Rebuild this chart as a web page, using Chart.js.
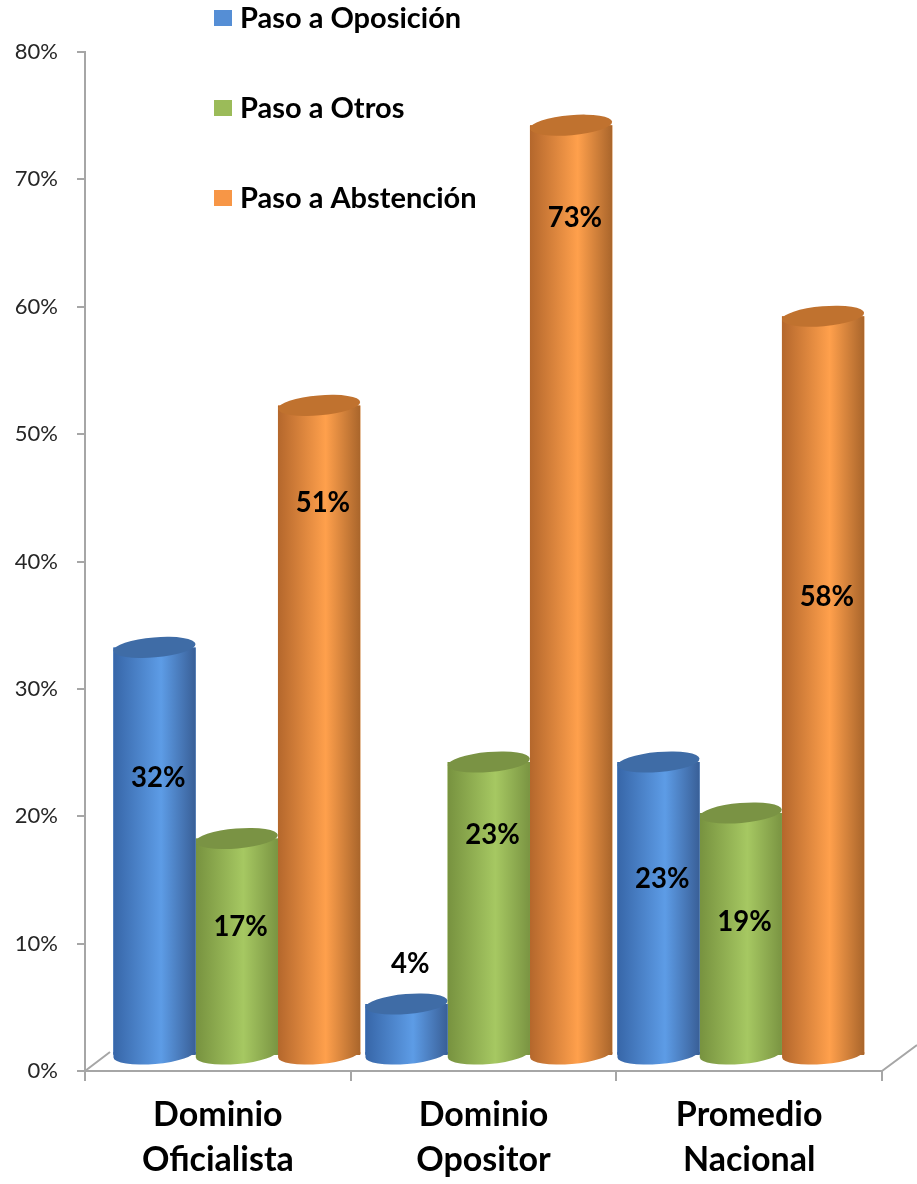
<!DOCTYPE html>
<html>
<head>
<meta charset="utf-8">
<script src="https://cdn.jsdelivr.net/npm/chart.js@4.4.1/dist/chart.umd.min.js"></script>
<style>
  html, body { margin: 0; padding: 0; background: #fff; }
  #wrap { width: 917px; height: 1184px; position: relative; }
</style>
</head>
<body>
<div id="wrap"><canvas id="myChartPaso"></canvas></div>
<script>
// Datos
const categorias = [["Dominio", "Oficialista"], ["Dominio", "Opositor"], ["Promedio", "Nacional"]];
const pasoOposicion = [32, 4, 23];
const pasoOtros = [17, 23, 19];
const pasoAbstencion = [51, 73, 58];
const ticksY = [0, 10, 20, 30, 40, 50, 60, 70, 80];

// colores de cada cilindro: borde oscuro, centro claro, tapa
const colores = [
  { izq: "#3766a8", centro: "#5d9ce6", der: "#395f97", tapa: "#3f6ca6", leyenda: "#558ed5" },
  { izq: "#77923f", centro: "#a6c862", der: "#7a9442", tapa: "#7a9344", leyenda: "#9bbb59" },
  { izq: "#b4672c", centro: "#ffa04c", der: "#a9652b", tapa: "#c0722f", leyenda: "#f79646" },
];

function degradado(c, bar, i) {
  const x0 = bar.x - bar.width / 2;
  const g = c.createLinearGradient(x0, 0, x0 + bar.width, 0);
  g.addColorStop(0, colores[i].izq);
  g.addColorStop(0.58, colores[i].centro);
  g.addColorStop(1, colores[i].der);
  return g;
}

// perspectiva simple para las barras
const perspectiva = {
  id: "perspectiva",
  beforeDatasetsDraw(chart, args, opts) {
    const c = chart.ctx;
    const a = chart.chartArea;
    // piso 3D
    c.save();
    c.strokeStyle = "#a6a6a6";
    c.lineWidth = 2;
    c.beginPath();
    c.moveTo(a.left, a.bottom);
    c.lineTo(a.left + 25, a.bottom - 19);
    c.moveTo(a.right, a.bottom);
    c.lineTo(a.right + 35, a.bottom - 26);
    c.stroke();
    c.restore();
    c.save();
    c.transform(opts.sx, 0, 0, 1, opts.dx, opts.dy);
  },
  afterDatasetDraw(chart, args, opts) {
    const c = chart.ctx;
    const i = args.index;
    args.meta.data.forEach(function (bar) {
      const w = bar.width;
      c.save();
      // cuerpo y base del cilindro
      c.fillStyle = degradado(c, bar, i);
      c.beginPath();
      c.rect(bar.x - w / 2, bar.y, w, bar.base - bar.y);
      c.ellipse(bar.x, bar.base, w / 2, opts.ry, opts.giro, 0, Math.PI);
      c.fill();
      c.beginPath();
      c.rect(bar.x - w / 2, bar.base - 2, w, 3);
      c.fill();
      // tapa
      c.fillStyle = colores[i].tapa;
      c.beginPath();
      c.ellipse(bar.x, bar.y, w / 2, opts.ry, opts.giro, 0, Math.PI * 2);
      c.fill();
      c.restore();
    });
  },
  afterDatasetsDraw(chart, args, opts) {
    const c = chart.ctx;
    c.font = "bold 29px Lato";
    c.fillStyle = "#000";
    c.textAlign = "center";
    c.textBaseline = "middle";
    chart.data.datasets.forEach(function (ds, i) {
      chart.getDatasetMeta(i).data.forEach(function (bar, j) {
        const f = opts.etiquetas[i][j];
        const y = bar.base - (bar.base - bar.y) * f;
        c.fillText(ds.data[j] + "%", bar.x + 4, y);
      });
    });
    c.restore();
  },
};

// leyenda vertical dentro del grafico
const leyenda = {
  id: "leyendaVertical",
  afterDraw(chart, args, opts) {
    const c = chart.ctx;
    c.save();
    c.font = "bold 29px Lato";
    c.textBaseline = "middle";
    c.textAlign = "left";
    chart.data.datasets.forEach(function (ds, i) {
      const y = opts.y + i * opts.paso;
      c.fillStyle = colores[i].leyenda;
      c.fillRect(opts.x, y - 8, 18, 16);
      c.fillStyle = "#000";
      c.fillText(ds.label, opts.x + 26, y + 1);
    });
    c.restore();
  },
};

const ctxPaso = document.getElementById("myChartPaso").getContext("2d");

const myChartPaso = new Chart(ctxPaso, {
  type: "bar",
  data: {
    labels: categorias,
    datasets: [
      { label: "Paso a Oposición", data: pasoOposicion, backgroundColor: colores[0].centro },
      { label: "Paso a Otros", data: pasoOtros, backgroundColor: colores[1].centro },
      { label: "Paso a Abstención", data: pasoAbstencion, backgroundColor: colores[2].centro },
    ],
  },
  options: {
    responsive: true,
    maintainAspectRatio: false,
    animation: false,
    events: [],
    layout: { padding: { top: 52, right: 35, left: 0, bottom: 0 } },
    datasets: { bar: { barPercentage: 1, categoryPercentage: 0.98, clip: false } },
    scales: {
      x: {
        border: { color: "#a6a6a6", width: 2 },
        grid: { drawOnChartArea: false, color: "#a6a6a6", lineWidth: 2, tickLength: 10 },
        ticks: { color: "#000", font: { family: "Lato", size: 34, weight: "bold", lineHeight: 1.32 }, padding: 12, maxRotation: 0 },
        afterFit: function (scale) { scale.height = 113; },
      },
      y: {
        min: 0,
        max: 80,
        afterBuildTicks: function (scale) { scale.ticks = ticksY.map(function (v) { return { value: v }; }); },
        border: { color: "#a6a6a6", width: 2 },
        grid: { drawOnChartArea: false, color: "#a6a6a6", lineWidth: 2, tickLength: 8 },
        ticks: { color: "#262626", font: { family: "Lato", size: 22 }, padding: 19, callback: function (v) { return v + "%"; } },
        afterFit: function (scale) { scale.width = 85; },
      },
    },
    plugins: {
      legend: { display: false },
      tooltip: { enabled: false },
      perspectiva: {
        sx: 0.9485, dx: 30.2, dy: -16, ry: 10, giro: -0.08,
        etiquetas: [
          [0.68, 1.8, 0.6],
          [0.59, 0.75, 0.55],
          [0.85, 0.9, 0.62],
        ],
      },
      leyendaVertical: { x: 214, y: 18, paso: 90 },
    },
  },
  plugins: [perspectiva, leyenda],
});
</script>
</body>
</html>
